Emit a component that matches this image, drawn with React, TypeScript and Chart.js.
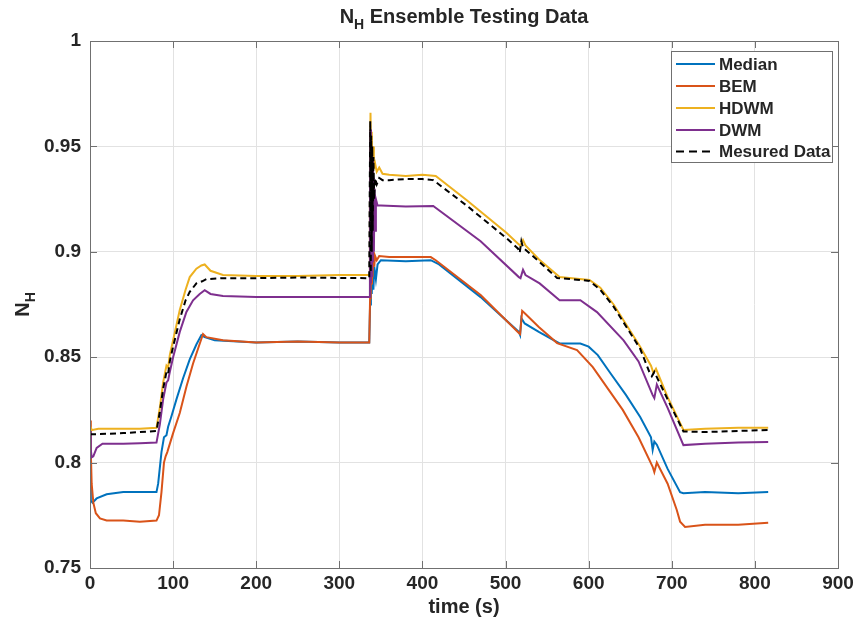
import React, { useEffect, useRef } from 'react';
import { Chart, registerables } from 'chart.js';

Chart.register(...registerables);

// ---------- data ----------
const seriesNames = ['Median', 'BEM', 'HDWM', 'DWM', 'Mesured Data'];

const medianT = [0, 1, 3, 8, 20, 40, 60, 80, 82, 86, 89, 92, 94, 98, 104, 112, 120, 128, 134, 138, 150, 200, 250, 300, 336, 337, 338, 339, 340, 341, 342, 344, 346, 350, 380, 410, 420, 470, 516, 517.5, 519, 523, 540, 565, 590, 600, 611, 626, 645, 662, 675, 677, 679, 682, 695, 710, 714, 740, 780, 816];
const medianV = [0.79, 0.782, 0.781, 0.783, 0.785, 0.786, 0.786, 0.786, 0.79, 0.805, 0.812, 0.813, 0.817, 0.822, 0.83, 0.84, 0.849, 0.856, 0.8605, 0.8595, 0.858, 0.857, 0.8575, 0.857, 0.857, 0.875, 0.898, 0.88, 0.895, 0.882, 0.893, 0.887, 0.894, 0.896, 0.8955, 0.896, 0.894, 0.8785, 0.862, 0.8605, 0.8685, 0.866, 0.862, 0.8565, 0.8565, 0.855, 0.851, 0.8425, 0.832, 0.8216, 0.812, 0.806, 0.81, 0.8085, 0.797, 0.786, 0.7855, 0.786, 0.7855, 0.786];

const bemT = [0, 1, 2, 4, 7, 12, 20, 40, 60, 80, 83, 86, 89, 91, 93, 100, 108, 116, 124, 130, 136, 140, 160, 200, 250, 300, 336, 337, 337.8, 338.5, 339.3, 340, 341, 342, 343, 345, 348, 360, 410, 416, 470, 516, 517.5, 520, 524, 540, 562, 586, 605, 625, 641, 660, 677, 679, 682, 695, 706, 710, 716, 740, 780, 816];
const bemV = [0.82, 0.805, 0.79, 0.781, 0.776, 0.7735, 0.7725, 0.7725, 0.772, 0.7725, 0.775, 0.786, 0.8, 0.803, 0.805, 0.814, 0.8235, 0.836, 0.847, 0.854, 0.861, 0.8595, 0.858, 0.857, 0.8575, 0.857, 0.857, 0.878, 0.906, 0.885, 0.903, 0.888, 0.9, 0.893, 0.898, 0.896, 0.898, 0.8975, 0.8975, 0.896, 0.8795, 0.8615, 0.861, 0.872, 0.8705, 0.8643, 0.8567, 0.8534, 0.8453, 0.834, 0.825, 0.812, 0.798, 0.7955, 0.8, 0.79, 0.7775, 0.772, 0.7695, 0.7705, 0.7705, 0.7715];

const hdwmT = [0, 1, 3, 10, 40, 60, 80, 84, 88, 92, 94, 96, 100, 108, 115, 120, 128, 134, 138, 145, 160, 200, 250, 300, 336, 336.8, 337.5, 338.3, 339, 339.8, 340.6, 341.5, 343, 345, 348, 352, 360, 380, 400, 416, 453, 501, 516, 518, 521, 524, 540, 565, 580, 601, 614, 630, 662, 675, 678, 681, 695, 714, 740, 780, 816];
const hdwmV = [0.817, 0.816, 0.8155, 0.816, 0.816, 0.816, 0.8165, 0.826, 0.838, 0.846, 0.845, 0.851, 0.858, 0.8724, 0.882, 0.888, 0.892, 0.8935, 0.894, 0.891, 0.889, 0.8885, 0.8885, 0.889, 0.889, 0.92, 0.966, 0.935, 0.957, 0.937, 0.95, 0.94, 0.942, 0.938, 0.94, 0.937, 0.9365, 0.936, 0.9365, 0.936, 0.9246, 0.909, 0.9035, 0.903, 0.9055, 0.903, 0.8965, 0.888, 0.8875, 0.8866, 0.883, 0.875, 0.855, 0.846, 0.8425, 0.8445, 0.831, 0.8155, 0.816, 0.8165, 0.8165];

const dwmT = [0, 1, 2, 4, 8, 15, 40, 60, 80, 84, 88, 92, 94, 96, 100, 108, 116, 124, 132, 138, 145, 160, 200, 250, 300, 336, 336.8, 337.4, 338, 338.6, 339.2, 339.8, 340.4, 341, 341.6, 342.3, 343, 344, 346, 350, 380, 413, 470, 516, 518, 521, 524, 541, 565, 590, 610, 642, 660, 677, 679, 682, 695, 714, 740, 780, 816];
const dwmV = [0.815, 0.806, 0.8025, 0.803, 0.807, 0.809, 0.809, 0.8092, 0.8095, 0.818, 0.83, 0.838, 0.839, 0.843, 0.85, 0.862, 0.8715, 0.877, 0.88, 0.8818, 0.88, 0.879, 0.8785, 0.8786, 0.8786, 0.8786, 0.92, 0.958, 0.885, 0.95, 0.888, 0.945, 0.895, 0.935, 0.9, 0.93, 0.91, 0.925, 0.922, 0.922, 0.9215, 0.9217, 0.905, 0.888, 0.8875, 0.8915, 0.889, 0.885, 0.877, 0.877, 0.8714, 0.858, 0.848, 0.832, 0.8306, 0.837, 0.826, 0.8083, 0.809, 0.8095, 0.8098];

const measT = [0, 10, 40, 60, 80, 84, 88, 92, 94, 96, 100, 108, 115, 120, 128, 135, 140, 160, 200, 250, 300, 336, 336.6, 337.2, 337.8, 338.4, 339, 339.6, 340.2, 341, 342, 343, 345, 348, 352, 360, 380, 400, 413, 453, 501, 515, 517, 519, 521, 524, 540, 562, 580, 601, 614, 630, 662, 673, 676, 679, 695, 714, 740, 780, 816];
const measV = [0.8135, 0.8135, 0.814, 0.8145, 0.815, 0.824, 0.835, 0.843, 0.842, 0.848, 0.855, 0.868, 0.877, 0.881, 0.885, 0.886, 0.887, 0.8875, 0.8875, 0.8878, 0.8876, 0.8875, 0.93, 0.962, 0.89, 0.955, 0.9, 0.95, 0.91, 0.945, 0.925, 0.935, 0.932, 0.935, 0.934, 0.934, 0.9345, 0.9345, 0.934, 0.922, 0.9065, 0.9015, 0.8995, 0.905, 0.902, 0.901, 0.8955, 0.8876, 0.887, 0.8862, 0.882, 0.874, 0.854, 0.843, 0.841, 0.843, 0.83, 0.8148, 0.8145, 0.815, 0.8155];

const xTicks = [0, 100, 200, 300, 400, 500, 600, 700, 800, 900];
const xTickLabels = ['0', '100', '200', '300', '400', '500', '600', '700', '800', '900'];
const yTicks = [0.75, 0.8, 0.85, 0.9, 0.95, 1];
const yTickLabels = ['0.75', '0.8', '0.85', '0.9', '0.95', '1'];

const titleMain = 'N';
const titleSub = 'H';
const titleRest = ' Ensemble Testing Data';
const xTitle = 'time (s)';
const yTitleMain = 'N';
const yTitleSub = 'H';

// ---------- styles ----------
const colors = ['#0072BD', '#D95319', '#EDB120', '#7E2F8E', '#000000'];
const dashes: number[][] = [[], [], [], [], [6, 4]];

function pts(t: number[], v: number[]) {
  return t.map((x, i) => ({ x, y: v[i] }));
}

export default function App() {
  const ref = useRef<HTMLCanvasElement>(null);

  useEffect(() => {
    const FONT = '"Liberation Sans", Arial, Helvetica, sans-serif';
    const TEXT = '#262626';
    const AXIS = '#707070';

    const series = [
      pts(medianT, medianV),
      pts(bemT, bemV),
      pts(hdwmT, hdwmV),
      pts(dwmT, dwmV),
      pts(measT, measV),
    ];

    const decor = {
      id: 'decor',
      afterDraw(chart: any) {
        const ctx = chart.ctx as CanvasRenderingContext2D;
        const a = chart.chartArea;
        const xs = chart.scales.x;
        const ys = chart.scales.y;
        ctx.save();
        // box
        ctx.strokeStyle = AXIS;
        ctx.lineWidth = 1;
        ctx.strokeRect(Math.round(a.left) + 0.5, Math.round(a.top) + 0.5, Math.round(a.right - a.left), Math.round(a.bottom - a.top));
        // inward ticks
        const tl = 7;
        ctx.beginPath();
        xTicks.forEach((v) => {
          const px = Math.round(xs.getPixelForValue(v)) + 0.5;
          ctx.moveTo(px, a.bottom);
          ctx.lineTo(px, a.bottom - tl);
          ctx.moveTo(px, a.top);
          ctx.lineTo(px, a.top + tl);
        });
        yTicks.forEach((v) => {
          const py = Math.round(ys.getPixelForValue(v)) + 0.5;
          ctx.moveTo(a.left, py);
          ctx.lineTo(a.left + tl, py);
          ctx.moveTo(a.right, py);
          ctx.lineTo(a.right - tl, py);
        });
        ctx.stroke();

        // title
        ctx.fillStyle = TEXT;
        ctx.textBaseline = 'alphabetic';
        ctx.textAlign = 'left';
        const bigT = 'bold 20px ' + FONT;
        const subT = 'bold 14px ' + FONT;
        ctx.font = bigT;
        const w1 = ctx.measureText(titleMain).width;
        const w3 = ctx.measureText(titleRest).width;
        ctx.font = subT;
        const w2 = ctx.measureText(titleSub).width;
        const tw = w1 + w2 + w3;
        let tx = (a.left + a.right) / 2 - tw / 2;
        const tb = 23;
        ctx.font = bigT;
        ctx.fillText(titleMain, tx, tb);
        tx += w1;
        ctx.font = subT;
        ctx.fillText(titleSub, tx, tb + 6);
        tx += w2;
        ctx.font = bigT;
        ctx.fillText(titleRest, tx, tb);

        // x title
        ctx.textAlign = 'center';
        ctx.font = bigT;
        ctx.fillText(xTitle, (a.left + a.right) / 2, 613);

        // y title
        ctx.save();
        ctx.font = bigT;
        const yw1 = ctx.measureText(yTitleMain).width;
        ctx.font = subT;
        const yw2 = ctx.measureText(yTitleSub).width;
        ctx.translate(29, (a.top + a.bottom) / 2);
        ctx.rotate(-Math.PI / 2);
        ctx.textAlign = 'left';
        const ystart = -(yw1 + yw2) / 2;
        ctx.font = bigT;
        ctx.fillText(yTitleMain, ystart, 0);
        ctx.font = subT;
        ctx.fillText(yTitleSub, ystart + yw1, 6);
        ctx.restore();

        // legend
        const lx = 671.5, ly = 51.5, lw = 161, lh = 111;
        ctx.fillStyle = '#ffffff';
        ctx.fillRect(lx, ly, lw, lh);
        ctx.strokeStyle = AXIS;
        ctx.lineWidth = 1;
        ctx.strokeRect(lx, ly, lw, lh);
        const rows = [64, 86, 108, 130, 151.5];
        ctx.font = 'bold 17px ' + FONT;
        ctx.textBaseline = 'middle';
        ctx.textAlign = 'left';
        seriesNames.forEach((name, i) => {
          const y = rows[i];
          ctx.beginPath();
          ctx.strokeStyle = colors[i];
          ctx.lineWidth = 2;
          ctx.setLineDash(dashes[i].length ? [8, 5] : []);
          ctx.moveTo(676, y);
          ctx.lineTo(715, y);
          ctx.stroke();
          ctx.setLineDash([]);
          ctx.fillStyle = TEXT;
          ctx.fillText(name, 719, y + 1);
        });
        ctx.restore();
      },
    };

    const tickFont = { family: FONT, size: 19, weight: 'bold' as const };

    const chart = new Chart(ref.current as HTMLCanvasElement, {
      type: 'line',
      data: {
        datasets: series.map((d, i) => ({
          label: seriesNames[i],
          data: d,
          borderColor: colors[i],
          backgroundColor: colors[i],
          borderWidth: 2,
          borderDash: dashes[i],
          pointRadius: 0,
          tension: 0,
          fill: false,
          order: 4 - i,
        })),
      },
      options: {
        animation: false,
        responsive: false,
        parsing: true,
        layout: { padding: { left: 0, right: 25, top: 41, bottom: 0 } },
        plugins: {
          legend: { display: false },
          title: { display: false },
          tooltip: { enabled: false },
        },
        scales: {
          x: {
            type: 'linear',
            min: 0,
            max: 900,
            afterBuildTicks: (s: any) => {
              s.ticks = xTicks.map((v) => ({ value: v }));
            },
            afterFit: (s: any) => {
              s.height = 62;
            },
            ticks: {
              autoSkip: false,
              maxRotation: 0,
              padding: 4,
              color: TEXT,
              font: tickFont,
              callback: (_v: any, i: number) => xTickLabels[i],
            },
            grid: { color: '#e2e2e2', lineWidth: 1, drawTicks: false },
            border: { display: false },
          },
          y: {
            type: 'linear',
            min: 0.75,
            max: 1,
            afterBuildTicks: (s: any) => {
              s.ticks = yTicks.map((v) => ({ value: v }));
            },
            afterFit: (s: any) => {
              s.width = 90;
            },
            ticks: {
              autoSkip: false,
              padding: 9,
              color: TEXT,
              font: tickFont,
              callback: (_v: any, i: number) => yTickLabels[i],
            },
            grid: { color: '#e2e2e2', lineWidth: 1, drawTicks: false },
            border: { display: false },
          },
        },
      },
      plugins: [decor],
    });

    return () => chart.destroy();
  }, []);

  return (
    <div style={{ position: 'absolute', left: 0, top: 0, width: 863, height: 630, background: '#ffffff' }}>
      <canvas ref={ref} width={863} height={630} style={{ display: 'block' }} />
    </div>
  );
}
